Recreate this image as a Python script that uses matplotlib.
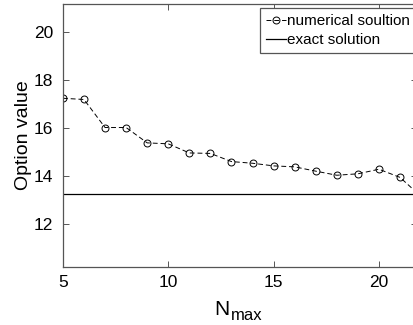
import numpy as np
import matplotlib.pyplot as plt

# values
n_max = [5, 6, 7, 8, 9, 10, 11, 12, 13, 14, 15, 16, 17, 18, 19, 20, 21, 22]
numerical = [17.25, 17.2, 16.03, 16.03, 15.39, 15.35, 14.97, 14.95, 14.61,
             14.54, 14.43, 14.39, 14.21, 14.04, 14.1, 14.29, 13.95, 13.15]
exact_value = 13.24
x_ticks = [5, 10, 15, 20]
y_ticks = [12, 14, 16, 18, 20]


def main() -> None:
    plt.rcParams["font.family"] = ["Liberation Sans", "DejaVu Sans"]

    fig = plt.figure(figsize=(4.14, 3.25), dpi=100)
    ax = fig.add_axes([0.152, 0.179, 0.855, 0.81])

    ax.plot(n_max, numerical, linestyle="--", color="black", linewidth=0.7,
            dashes=(5, 3), marker="o", markersize=5, markerfacecolor="none",
            markeredgewidth=0.7, label="numerical soultion")
    ax.axhline(exact_value, color="black", linewidth=0.9, label="exact solution")

    ax.set_xlim(5, 21.8)
    ax.set_ylim(10.22, 21.2)
    ax.set_xticks(x_ticks)
    ax.set_yticks(y_ticks)
    ax.tick_params(direction="in", top=True, right=True, length=4,
                   width=0.7, color="#555555", labelsize=12.5)
    ax.tick_params(axis="x", pad=6)
    ax.tick_params(axis="y", pad=7)
    for s in ax.spines.values():
        s.set_color("#555555")
        s.set_linewidth(0.9)

    # N with a large "max" subscript, as MATLAB draws it
    fig.text(230 / 414, 10 / 325, "N", fontsize=15, ha="right", va="baseline")
    fig.text(231 / 414, 5 / 325, "max", fontsize=12, ha="left", va="baseline")
    ax.set_ylabel("Option value", fontsize=14, labelpad=1)

    leg = ax.legend(loc="upper left", bbox_to_anchor=(0.556, 0.984),
                    fancybox=False, framealpha=1, edgecolor="#555555",
                    prop={"size": 11}, handlelength=1.3,
                    handletextpad=0.1, borderpad=0.4, labelspacing=0.35,
                    borderaxespad=0)
    leg.get_frame().set_linewidth(0.9)

    fig.savefig("out.png", dpi=100)


if __name__ == "__main__":
    main()
